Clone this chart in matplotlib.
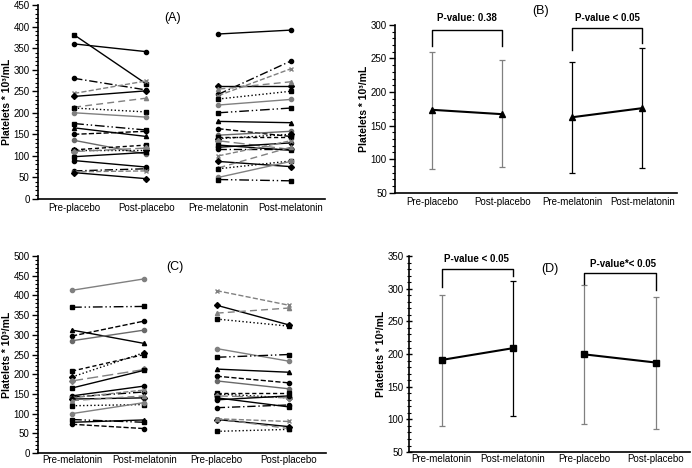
import matplotlib
matplotlib.use("Agg")
import matplotlib.pyplot as plt
import numpy as np
from matplotlib.ticker import MultipleLocator

plt.rcParams['font.family'] = ['Liberation Sans', 'DejaVu Sans']

# ---------------- data ----------------
cats_A = ["Pre-placebo", "Post-placebo", "Pre-melatonin", "Post-melatonin"]
cats_C = ["Pre-melatonin", "Post-melatonin", "Pre-placebo", "Post-placebo"]

A_pre_placebo = [381, 360, 280, 245, 238, 213, 211, 200, 175, 165, 150, 136, 114, 113, 110, 98, 89, 65, 63, 61]
A_post_placebo = [267, 342, 253, 274, 251, 234, 202, 190, 160, 145, 157, 104, 125, 113, 118, 108, 74, 70, 65, 47]
A_pre_melatonin = [383, 243, 240, 263, 255, 232, 218, 200, 180, 163, 148, 143, 140, 135, 125, 120, 115, 100, 87, 72, 70, 50, 45]
A_post_melatonin = [392, 320, 302, 263, 272, 250, 231, 211, 177, 145, 157, 143, 150, 115, 113, 130, 115, 135, 75, 120, 88, 87, 42]

C_pre_melatonin = [413, 370, 312, 297, 285, 208, 193, 183, 165, 145, 142, 140, 137, 133, 120, 100, 85, 78, 73]
C_post_melatonin = [442, 372, 278, 335, 312, 250, 255, 212, 210, 170, 155, 160, 140, 145, 123, 128, 78, 84, 62]
C_pre_placebo = [412, 375, 355, 340, 265, 243, 213, 195, 183, 153, 150, 145, 140, 135, 115, 87, 85, 87, 55]
C_post_placebo = [375, 325, 368, 322, 233, 250, 205, 178, 163, 153, 140, 140, 117, 145, 122, 80, 67, 62, 60]

B_mean = [173.5, 167, 162.5, 176]
B_upper = [260, 247, 245, 266]
B_lower = [85, 88, 80, 87]

D_mean = [191, 209, 199.5, 187]
D_upper = [291, 312, 306, 287]
D_lower = [90, 105, 93, 86]

B_brackets = [(0, 1, 269, 292.5, 268), (2, 3, 263, 295, 273)]
D_brackets = [(0, 1, 302.5, 330.5, 320), (2, 3, 307.5, 324.5, 297.5)]

# ---------------- styles ----------------
styles = [
    ('-', 's', 'black'), ('-', 'o', 'black'), ((0, (6, 2, 1, 2)), 'o', 'black'),
    ('--', 'x', 'gray'), ('-', 'D', 'black'), ((0, (5, 3)), '^', 'gray'),
    (':', 's', 'black'), ('-', 'o', 'gray'), ((0, (7, 2, 1, 2, 1, 2)), 's', 'black'),
    ('-', '^', 'black'), ('--', 'o', 'black'), ('-', 'o', 'dimgray'),
    ((0, (3, 2)), 's', 'black'), (':', 'D', 'black'), ((0, (8, 3)), 'D', 'gray'),
]

fig = plt.figure(figsize=(6.92, 4.68), dpi=100)

def style_axes(ax, ylim, major, minor, labels, xlim, inout=False, xpad=3):
    ax.set_ylim(*ylim)
    ax.set_xlim(*xlim)
    ax.yaxis.set_major_locator(MultipleLocator(major))
    ax.yaxis.set_minor_locator(MultipleLocator(minor))
    for s in ['top', 'right']:
        ax.spines[s].set_visible(False)
    ax.spines['left'].set_linewidth(1.2)
    ax.spines['bottom'].set_linewidth(1.2)
    ax.set_xticks(range(4))
    ax.set_xticklabels(labels, fontsize=7)
    ax.tick_params(axis='x', length=0, pad=xpad)
    d = 'inout' if inout else 'out'
    ax.tick_params(axis='y', which='major', labelsize=7, length=4, width=1, direction=d, pad=2)
    ax.tick_params(axis='y', which='minor', length=2.5, width=0.8, direction=d)
    ax.set_ylabel("Platelets * 10\u00b3/mL", fontsize=7.5, fontweight='bold', labelpad=1)

def pairs(ax, x0, x1, pre, post, offset=0):
    for i, (a, b) in enumerate(zip(pre, post)):
        ls, mk, col = styles[(i + offset) % len(styles)]
        ax.plot([x0, x1], [a, b], linestyle=ls, color=col, lw=1.0,
                marker=mk, markersize=3.0, markerfacecolor=col, markeredgecolor=col, clip_on=False)

# Panel A
axA = fig.add_axes([0.055, 0.575, 0.415, 0.414])
pairs(axA, 0, 1, A_pre_placebo, A_post_placebo)
pairs(axA, 2, 3, A_pre_melatonin, A_post_melatonin, offset=1)
style_axes(axA, (0, 450), 50, 10, cats_A, (-0.5, 3.48))
axA.text(1.36, 419, "(A)", fontsize=9, ha='center', va='center')

# Panel C
axC = fig.add_axes([0.055, 0.032, 0.416, 0.421])
pairs(axC, 0, 1, C_pre_melatonin, C_post_melatonin, offset=7)
pairs(axC, 2, 3, C_pre_placebo, C_post_placebo, offset=3)
style_axes(axC, (0, 500), 50, 10, cats_C, (-0.47, 3.51), xpad=1.5)
axC.text(1.42, 473, "(C)", fontsize=9, ha='center', va='center')

def summary(ax, mean, upper, lower, colors, marker):
    for i in range(4):
        ax.errorbar([i], [mean[i]], yerr=[[mean[i] - lower[i]], [upper[i] - mean[i]]],
                    fmt='none', ecolor=colors[i], elinewidth=0.9, capsize=2, capthick=0.9)
    for a, b in [(0, 1), (2, 3)]:
        ax.plot([a, b], [mean[a], mean[b]], color='black', lw=1.5, marker=marker, markersize=4)

def brackets(ax, br):
    for x0, x1, yl, yt, yr in br:
        ax.plot([x0, x0, x1, x1], [yl, yt, yt, yr], color='black', lw=1.0, clip_on=False)

# Panel B
axB = fig.add_axes([0.571, 0.588, 0.408, 0.359])
summary(axB, B_mean, B_upper, B_lower, ['gray', 'gray', 'black', 'black'], '^')
brackets(axB, B_brackets)
style_axes(axB, (50, 300), 50, 10, cats_A, (-0.53, 3.5))
axB.text(0.5, 310, "P-value: 0.38", fontsize=7, fontweight='bold', ha='center', va='center')
axB.text(2.5, 310, "P-value < 0.05", fontsize=7, fontweight='bold', ha='center', va='center')
axB.text(1.54, 320, "(B)", fontsize=9, ha='center', va='center')

# Panel D
axD = fig.add_axes([0.591, 0.034, 0.406, 0.419])
summary(axD, D_mean, D_upper, D_lower, ['gray', 'black', 'gray', 'gray'], 's')
brackets(axD, D_brackets)
style_axes(axD, (50, 350), 50, 10, cats_C, (-0.46, 3.48), inout=True, xpad=1.5)
axD.text(0.49, 345, "P-value < 0.05", fontsize=7, fontweight='bold', ha='center', va='center')
axD.text(2.54, 337, "P-value*< 0.05", fontsize=7, fontweight='bold', ha='center', va='center')
axD.text(1.51, 330.5, "(D)", fontsize=9, ha='center', va='center')

fig.savefig("out.png", dpi=100)
